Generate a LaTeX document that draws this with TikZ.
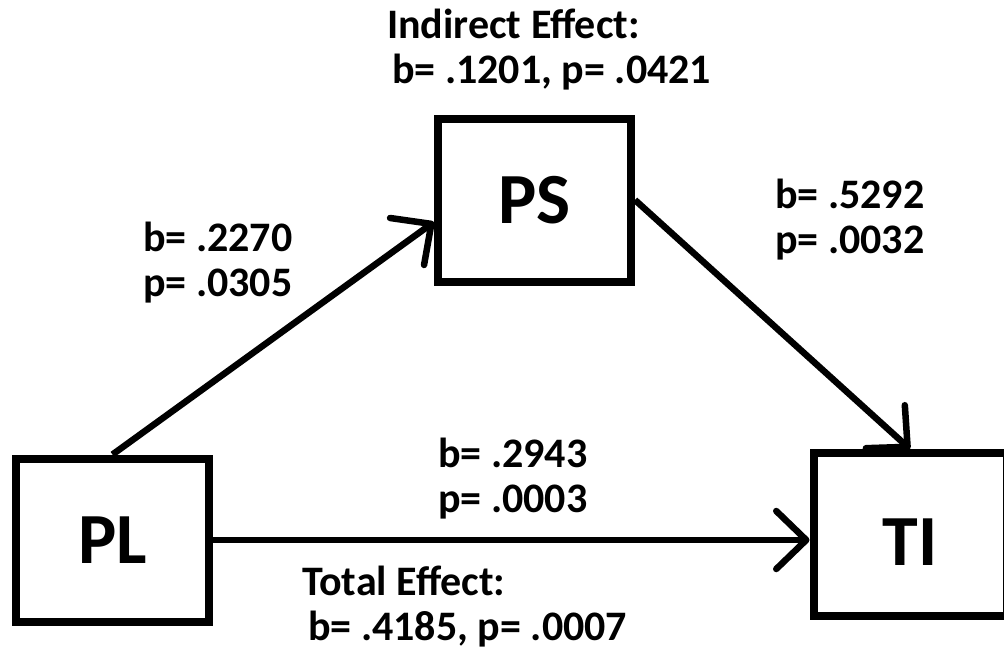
\documentclass[tikz,border=0pt]{standalone}
\usepackage{fontspec}
\setmainfont{Carlito}
\usetikzlibrary{positioning,arrows.meta}

\begin{document}
\begin{tikzpicture}[x=1pt, y=-1pt,
		varbox/.style={draw, line width=8pt, minimum width=193pt, minimum height=163pt,
								inner sep=0pt, font=\fontsize{72}{76}\selectfont\bfseries},
		coef/.style={anchor=base west, inner sep=0pt, align=left,
								font=\fontsize{42}{45}\selectfont\bfseries},
		arrow/.style={-{Straight Barb[length=30pt, width=58pt, line width=6.5pt, round]},
								line width=6.5pt},
	]
		\useasboundingbox (0,0) rectangle (1004,653);

		% Variablen
		\node[varbox] (pl) at (112.5,540) {PL};
		\node[varbox] (ps) at (534.5,200) {PS};
		\node[varbox, text height=62pt, text depth=0pt] (ti) at (910,534.5) {TI};

		% Pfade
		\draw[arrow] (pl.north) -- ([yshift=-22pt]ps.west);
		\draw[arrow] (ps.east) -- (ti.north);
		\draw[arrow] (pl.east) -- (pl.east -| ti.west);

		% Koeffizienten
		\node[coef] (indirect) at (387,83) {Indirect Effect:\\\hspace*{5pt}b= .1201, p= .0421};
		\node[coef] (apath) at (143,296) {b= .2270\\p= .0305};
		\node[coef] (bpath) at (775,253) {b= .5292\\p= .0032};
		\node[coef] (cpath) at (438,512) {b= .2943\\p= .0003};
		\node[coef] (total) at (302,640) {Total Effect:\\\hspace*{6pt}b= .4185, p= .0007};
	\end{tikzpicture}
\end{document}
